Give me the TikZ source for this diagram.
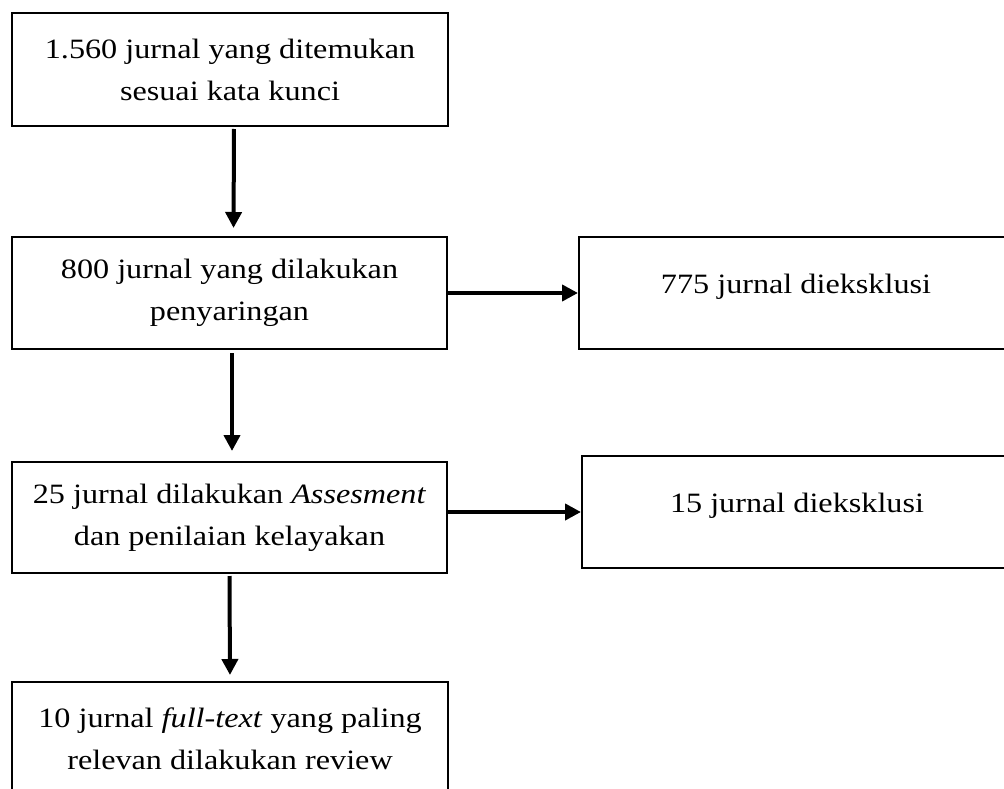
\documentclass[tikz,border=0pt]{standalone}
\usepackage{fontspec}
\setmainfont{Liberation Serif}[FakeStretch=1.15]
\usetikzlibrary{arrows.meta}
\tikzset{
  box/.style={draw, line width=2pt, inner sep=0pt, align=center,
    font=\fontsize{28}{42}\selectfont},
  sidebox/.style={box, text height=19pt, text depth=19pt},
  flow/.style={line width=4pt, -{Triangle[width=16pt,length=16pt]}}
}
\begin{document}
\begin{tikzpicture}[x=1pt,y=-1pt]
\useasboundingbox (0,0) rectangle (1004,789);
\clip (0,0) rectangle (1004,789);
\node[box, minimum width=436pt, minimum height=113pt] (b1) at (230,69.5)
  {1.560 jurnal yang ditemukan\\sesuai kata kunci};
\node[box, minimum width=435pt, minimum height=112pt] (b2) at (229.5,293)
  {800 jurnal yang dilakukan\\penyaringan};
\node[sidebox, minimum width=434pt, minimum height=112pt] (b3) at (796,293)
  {775 jurnal dieksklusi};
\node[box, minimum width=435pt, minimum height=111pt] (b4) at (229.5,517.5)
  {25 jurnal dilakukan \textit{Assesment}\\dan penilaian kelayakan};
\node[sidebox, minimum width=430pt, minimum height=112pt] (b5) at (797,512)
  {15 jurnal dieksklusi};
\node[box, minimum width=436pt, minimum height=113pt] (b6) at (230,738.5)
  {10 jurnal \textit{full-text} yang paling\\relevan dilakukan review};
\draw[flow, shorten <=2pt, shorten >=8pt] ([xshift=4pt]b1.south) -- ([xshift=4pt]b2.north);
\draw[flow, shorten <=3pt, shorten >=10pt] ([xshift=2.5pt]b2.south) -- ([xshift=2.5pt]b4.north);
\draw[flow, shorten <=2pt, shorten >=6pt] (b4.south) -- (b6.north);
\draw[flow] (b2.east) -- (b3.west);
\draw[flow] (b4.east |- b5.west) -- (b5.west);
\end{tikzpicture}
\end{document}
